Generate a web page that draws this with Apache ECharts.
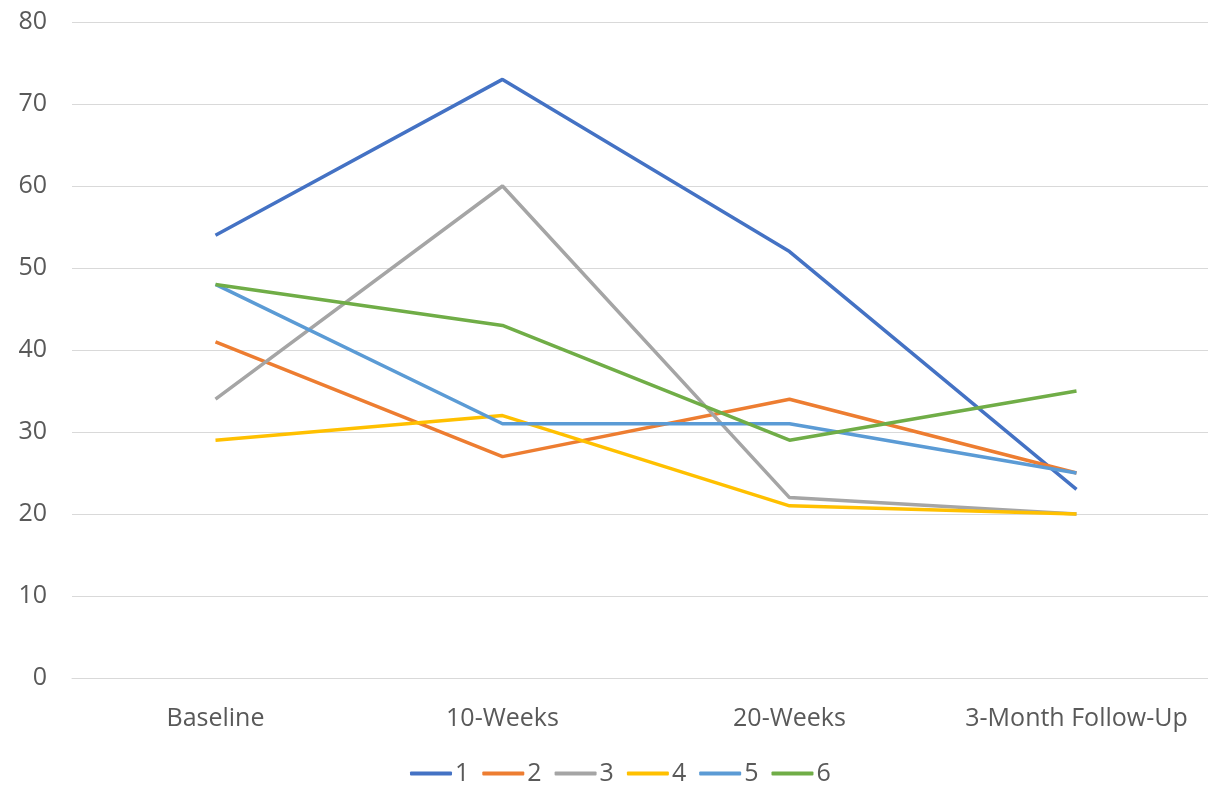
<!DOCTYPE html>
<html>
<head>
<meta charset="utf-8">
<script src="https://cdn.jsdelivr.net/npm/echarts@6/dist/echarts.min.js"></script>
<style>
  html, body { margin: 0; padding: 0; background: #fff; overflow: hidden; }
  /* canvas is a little wider than the window so the plot runs past the right edge */
  #chart { width: 1220px; height: 787px; }
</style>
</head>
<body>
<div id="chart"></div>
<script>
// Assessment time points
const categories = ['Baseline', '10-Weeks', '20-Weeks', '3-Month Follow-Up'];

// Scores per participant
const p1 = [54, 73, 52, 23];
const p2 = [41, 27, 34, 25];
const p3 = [34, 60, 22, 20];
const p4 = [29, 32, 21, 20];
const p5 = [48, 31, 31, 25];
const p6 = [48, 43, 29, 35];

const seriesNames = ['1', '2', '3', '4', '5', '6'];
const seriesData = [p1, p2, p3, p4, p5, p6];
const colors = ['#4472C4', '#ED7D31', '#A5A5A5', '#FFC000', '#5B9BD5', '#70AD47'];

const font = '"Open Sans", "Noto Sans", sans-serif';

const chart = echarts.init(document.getElementById('chart'));
chart.setOption({
  animation: false,
  color: colors,
  textStyle: { fontFamily: font },
  grid: { left: 72, right: 0, top: 22, height: 656, containLabel: false },
  legend: {
    top: 756,
    left: 405,
    itemWidth: 42,
    itemHeight: 4,
    itemGap: 13,
    icon: 'roundRect',
    textStyle: { fontSize: 25, color: '#595959', fontFamily: font, padding: [0, 0, 0, -2] },
    data: seriesNames
  },
  xAxis: {
    type: 'category',
    data: categories,
    boundaryGap: true,
    axisLine: { lineStyle: { color: '#d9d9d9', width: 1 } },
    axisTick: { show: false },
    axisLabel: {
      color: '#595959', fontSize: 25, margin: 28, fontFamily: font,
      interval: 0, hideOverlap: false
    }
  },
  yAxis: {
    type: 'value',
    min: 0,
    max: 80,
    interval: 10,
    axisLine: { show: false },
    axisTick: { show: false },
    splitLine: { lineStyle: { color: '#d9d9d9', width: 1 } },
    axisLabel: { color: '#595959', fontSize: 25, margin: 25, fontFamily: font }
  },
  series: seriesData.map((d, i) => ({
    name: seriesNames[i],
    type: 'line',
    data: d,
    symbol: 'none',
    lineStyle: { width: 3.5, color: colors[i] },
    itemStyle: { color: colors[i] }
  }))
});
</script>
</body>
</html>
